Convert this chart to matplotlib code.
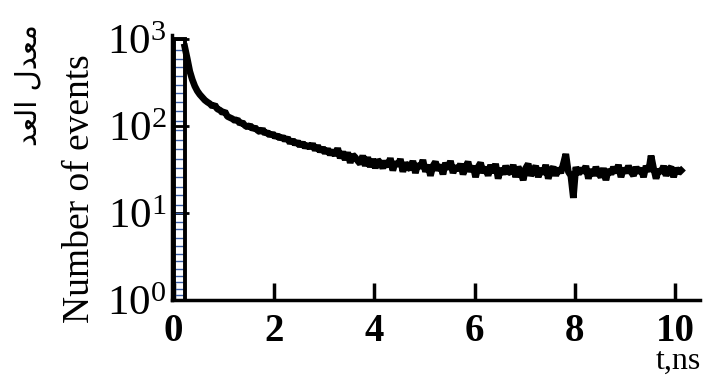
import matplotlib
matplotlib.use("Agg")
import matplotlib.pyplot as plt
import numpy as np

plt.rcParams["font.family"] = ["Liberation Serif", "DejaVu Serif"]
plt.rcParams["mathtext.fontset"] = "custom"
plt.rcParams["mathtext.rm"] = "Liberation Serif"
plt.rcParams["mathtext.it"] = "Liberation Serif:italic"

# decay channels: first channel time and channel width (ns)
t_first = 0.22
t_step = 0.05
counts = [
    820, 600, 430, 345, 290, 255, 232, 215, 200, 190,
    182, 170, 176, 158, 154, 143, 148, 130, 126, 122,
    116, 120, 107, 111, 102, 98, 103, 93, 97, 90,
    86, 93, 82, 86, 78, 83, 75, 79, 72, 76,
    69, 74, 64, 70, 62, 67, 59, 65, 57, 62,
    56, 63, 53, 60, 51, 57, 49, 55, 47, 53,
    46, 56, 43, 51, 41, 50, 38, 47, 44, 40,
    37, 46, 35, 44, 34, 42, 33, 41, 38, 33,
    40, 34, 43, 31, 39, 35, 42, 30, 38, 34,
    32, 40, 29, 37, 33, 41, 30, 36, 27, 35,
    39, 31, 36, 28, 38, 32, 40, 29, 35, 31,
    37, 28, 34, 39, 30, 35, 26, 34, 38, 29,
    34, 27, 36, 29, 37, 25, 33, 28, 35, 30,
    29, 36, 26, 34, 30, 24, 33, 37, 27, 31,
    35, 26, 33, 28, 36, 25, 31, 34, 27, 33,
    29, 37, 48, 30, 27, 15, 34, 28, 33, 29,
    35, 25, 32, 27, 34, 29, 26, 33, 24, 32,
    28, 34, 29, 36, 26, 33, 29, 35, 30, 27,
    34, 29, 33, 26, 35, 30, 46, 33, 25, 32,
    29, 35, 27, 32, 34, 26, 33, 29, 31,
]

# excitation pulse at t = 0, drawn as a ladder between two edges
rise_edges = [0.0, 0.22]
rise_levels = [1.0, 1.15, 1.35, 1.6, 1.9, 2.3, 2.8, 3.4, 4.2, 5.2, 6.5,
               8.0, 10, 12.5, 16, 20, 26, 33, 42, 55, 70, 90, 115, 150,
               190, 240, 300, 380, 480, 600, 750, 1000]

x_ticks = [0, 2, 4, 6, 8, 10]
y_ticks = [1, 10, 100, 1000]
y_tick_labels = [r"$\mathrm{10^{0}}$", r"$\mathrm{10^{1}}$",
                 r"$\mathrm{10^{2}}$", r"$\mathrm{10^{3}}$"]

t = t_first + t_step * np.arange(len(counts))

fig = plt.figure(figsize=(7.03, 3.77), dpi=100)
ax = fig.add_axes([0.245, 0.204, 0.751, 0.703])

# ladder of the pulse
lx, ly = [], []
for i, lev in enumerate(rise_levels):
    a, b = (rise_edges[0], rise_edges[1]) if i % 2 == 0 else (rise_edges[1], rise_edges[0])
    lx += [a, b]
    ly += [lev, lev]
ax.plot(lx, ly, color="#3a5fa8", lw=1.0, solid_capstyle="butt")
ax.plot([rise_edges[0], rise_edges[0], rise_edges[1], rise_edges[1]],
        [rise_levels[0], rise_levels[-1], rise_levels[-1], rise_levels[0]],
        color="black", lw=2.8, solid_joinstyle="miter")

# decay curve
ax.plot(t, counts, color="black", lw=4.8, solid_joinstyle="bevel")

ax.set_yscale("log")
ax.set_xlim(-0.03, 10.5)
ax.set_ylim(1, 10 ** 3.05)
ax.set_xticks(x_ticks)
ax.set_xticklabels([str(v) for v in x_ticks], fontweight="bold", fontsize=28)
ax.set_yticks(y_ticks)
ax.set_yticklabels(y_tick_labels, fontsize=31)
ax.yaxis.set_minor_locator(matplotlib.ticker.NullLocator())
ax.tick_params(axis="x", direction="in", length=12, width=2.5, pad=9)
ax.tick_params(axis="y", direction="in", length=12, width=2.0, pad=4)

for side in ("top", "right"):
    ax.spines[side].set_visible(False)
for side in ("left", "bottom"):
    ax.spines[side].set_linewidth(2.5)
    ax.spines[side].set_color("black")

fig.text(0.113, 0.5, "Number of events", rotation=90, fontsize=27,
         ha="center", va="center")
fig.text(0.04, 0.935, "\uFEAA\uFECC\uFEDF\uFE8D \uFEDD\uFEAA\uFECC\uFEE3",
         rotation=90, fontsize=21, family=["DejaVu Sans"],
         ha="center", va="top")
fig.text(0.997, 0.004, "t,ns", fontsize=23, ha="right", va="bottom")

fig.savefig("out.png", dpi=100)
